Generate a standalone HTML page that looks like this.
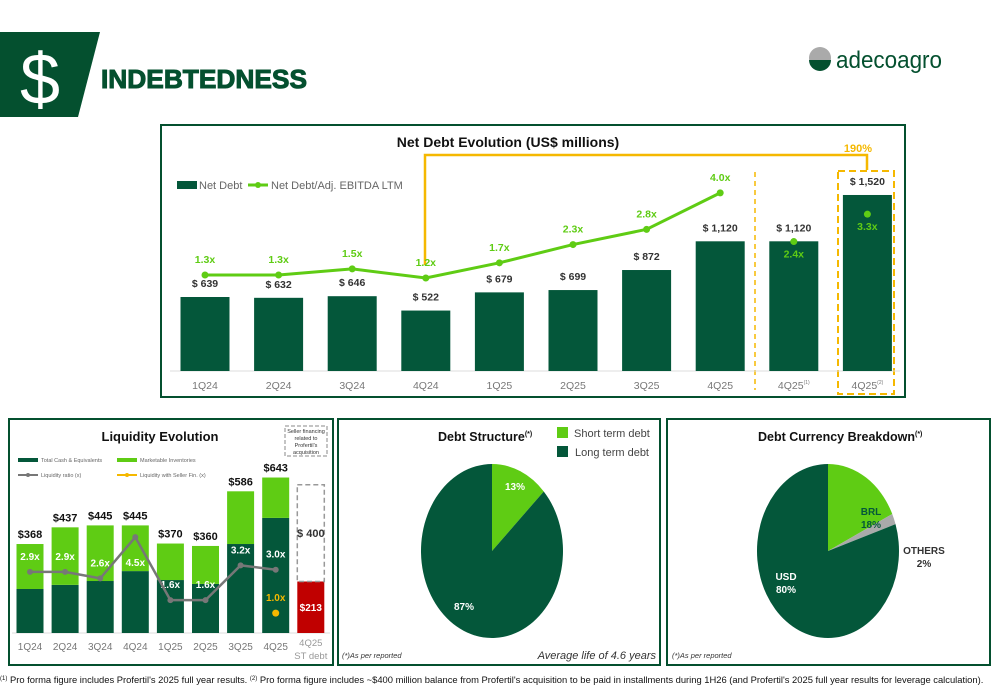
<!DOCTYPE html>
<html><head><meta charset="utf-8"><style>
body{margin:0;background:#fff}
svg{display:block;font-family:"Liberation Sans",sans-serif}
</style></head><body>
<svg id="s" width="1000" height="685" viewBox="0 0 1000 685" xmlns="http://www.w3.org/2000/svg">
<polygon points="0,32 100,32 78,117 0,117" fill="#04502f"/>
<text x="40" y="104" font-size="72" fill="#fff" text-anchor="middle">$</text>
<text x="101" y="88" font-size="26" font-weight="bold" fill="#04502f" stroke="#04502f" stroke-width="1" textLength="206" lengthAdjust="spacingAndGlyphs">INDEBTEDNESS</text>
<g>
<circle cx="820" cy="58" r="11" fill="#aaa"/>
<path d="M809,60 A11,11 0 0 0 831,60 Z" fill="#04502f"/>
<text x="836" y="68" font-size="24" fill="#04502f" textLength="106" lengthAdjust="spacingAndGlyphs">adecoagro</text>
</g>
<rect x="161" y="125" width="744" height="272" fill="none" stroke="#04502f" stroke-width="2"/>
<text x="508" y="147" font-size="14" font-weight="bold" text-anchor="middle" fill="#111">Net Debt Evolution (US$ millions)</text>
<rect x="177" y="181" width="20" height="8" fill="#04573a"/>
<text x="199" y="189" font-size="11" fill="#666">Net Debt</text>
<line x1="248" y1="185" x2="268" y2="185" stroke="#5fcc14" stroke-width="3"/><circle cx="258" cy="185" r="3" fill="#5fcc14"/>
<text x="271" y="189" font-size="11" fill="#666">Net Debt/Adj. EBITDA LTM</text>
<path d="M425,265 V155 H867 V170" fill="none" stroke="#f5b800" stroke-width="2.5"/>
<text x="858" y="152" font-size="11" font-weight="bold" fill="#f5b800" text-anchor="middle">190%</text>
<line x1="755" y1="172" x2="755" y2="390" stroke="#f5b800" stroke-width="1.5" stroke-dasharray="5,4"/>
<rect x="838" y="171" width="56" height="223" fill="none" stroke="#f5b800" stroke-width="2" stroke-dasharray="7,4"/>
<line x1="170" y1="371" x2="900" y2="371" stroke="#ddd"/>
<g id="main"></g>
<rect x="9" y="419" width="324" height="246" fill="none" stroke="#04502f" stroke-width="2"/>
<text x="160" y="441" font-size="13" font-weight="bold" text-anchor="middle" fill="#111">Liquidity Evolution</text>
<rect x="285" y="426" width="42" height="30" fill="none" stroke="#888" stroke-dasharray="4,2"/>
<text font-size="5.5" fill="#333" text-anchor="middle"><tspan x="306" y="433">Seller financing</tspan><tspan x="306" y="440">related to</tspan><tspan x="306" y="447">Profertil's</tspan><tspan x="306" y="454">acquisition</tspan></text>
<rect x="18" y="458" width="20" height="4" fill="#04573a"/><text x="41" y="462" font-size="5.5" fill="#666">Total Cash &amp; Equivalents</text>
<rect x="117" y="458" width="20" height="4" fill="#5fcc14"/><text x="140" y="462" font-size="5.5" fill="#666">Marketable Inventories</text>
<line x1="18" y1="475" x2="38" y2="475" stroke="#777" stroke-width="2"/><circle cx="28" cy="475" r="2" fill="#777"/><text x="41" y="477" font-size="5.5" fill="#666">Liquidity ratio (x)</text>
<line x1="117" y1="475" x2="137" y2="475" stroke="#f5b800" stroke-width="2"/><circle cx="127" cy="475" r="2" fill="#f5b800"/><text x="140" y="477" font-size="5.5" fill="#666">Liquidity with Seller Fin. (x)</text>
<line x1="12" y1="633" x2="330" y2="633" stroke="#ddd"/>
<g id="liq"></g>
<rect x="338" y="419" width="322" height="246" fill="none" stroke="#04502f" stroke-width="2"/>
<text x="438" y="441" font-size="12.5" font-weight="bold" fill="#111">Debt Structure<tspan font-size="7" dy="-5">(*)</tspan></text>
<rect x="557" y="427" width="11" height="11" fill="#5fcc14"/><text x="574" y="437" font-size="11" fill="#444">Short term debt</text>
<rect x="557" y="446" width="11" height="11" fill="#04573a"/><text x="575" y="456" font-size="11" fill="#444">Long term debt</text>
<g id="pie1"></g>
<text x="342" y="658" font-size="7.5" font-style="italic" fill="#333">(*)As per reported</text>
<text x="656" y="659" font-size="11" font-style="italic" fill="#333" text-anchor="end">Average life of 4.6 years</text>
<rect x="667" y="419" width="323" height="246" fill="none" stroke="#04502f" stroke-width="2"/>
<text x="758" y="441" font-size="12.5" font-weight="bold" fill="#111">Debt Currency Breakdown<tspan font-size="7" dy="-5">(*)</tspan></text>
<g id="pie2"></g>
<text x="672" y="658" font-size="7.5" font-style="italic" fill="#333">(*)As per reported</text>
<text x="0" y="683" font-size="9.4" fill="#111"><tspan font-size="6" dy="-3">(1)</tspan><tspan dy="3"> Pro forma figure includes Profertil's 2025 full year results. </tspan><tspan font-size="6" dy="-3">(2)</tspan><tspan dy="3"> Pro forma figure includes ~$400 million balance from Profertil's acquisition to be paid in installments during 1H26 (and Profertil's 2025 full year results for leverage calculation).</tspan></text>
</svg>
<script>
const NS="http://www.w3.org/2000/svg";
const quarters=["1Q24","2Q24","3Q24","4Q24","1Q25","2Q25","3Q25","4Q25","4Q25","4Q25"];
const netDebt=[639,632,646,522,679,699,872,1120,1120,1520];
const ratio=[1.3,1.3,1.5,1.2,1.7,2.3,2.8,4.0,2.4,3.3];
const liqCats=["1Q24","2Q24","3Q24","4Q24","1Q25","2Q25","3Q25","4Q25"];
const liqCash=[182,199,215,256,219,203,368,476];
const liqInv=[186,238,230,189,151,157,218,167];
const liqRatio=[2.9,2.9,2.6,4.5,1.6,1.6,3.2,3.0];
const sellerRatio=1.0, stDebt=213, sellerFin=400;
const structVals=[13,87];
const currVals=[18,2,80];
const currLabels=["BRL","OTHERS","USD"];
function el(t,a,p,txt){const e=document.createElementNS(NS,t);for(const k in a)e.setAttribute(k,a[k]);if(txt!==undefined)e.textContent=txt;p.appendChild(e);return e;}
const M=document.getElementById('main');
const mx=i=>205+i*73.6, my=v=>371-v*0.1158, ry=v=>314.5-v*30.4;
netDebt.forEach((v,i)=>{
 const r=el('rect',{x:mx(i)-24.5,y:my(v),width:49,height:371-my(v),fill:'#04573a'},M);
 
 
 const t=el('text',{x:mx(i),y:my(v)-10,'font-size':10.5,'font-weight':'bold','text-anchor':'middle',fill:'#333'},M,'$ '+v.toLocaleString('en-US'));
 
 
 const q=el('text',{x:mx(i),y:389,'font-size':10.5,'text-anchor':'middle',fill:'#777'},M,quarters[i]);
 
 
 if(i>=8){el('tspan',{'font-size':5,dy:-5},q,i==8?'(1)':'(2)');}
});
let pts=ratio.slice(0,8).map((v,i)=>mx(i)+','+ry(v)).join(' ');
const pl=el('polyline',{points:pts,fill:'none',stroke:'#5fcc14','stroke-width':3},M);


ratio.forEach((v,i)=>{
 el('circle',{cx:mx(i),cy:ry(v),r:3.5,fill:'#5fcc14'},M);
 const t=el('text',{x:mx(i),y:i>=8?ry(v)+16:ry(v)-12,'font-size':10.5,'font-weight':'bold','text-anchor':'middle',fill:'#5fcc14'},M,v.toFixed(1)+'x');
 
 
});
const L=document.getElementById('liq');
const lx=i=>30+i*35.1, ly=v=>633-v*0.2418, lr=v=>634.8-v*21.7;
liqCats.forEach((c,i)=>{
 const tot=liqCash[i]+liqInv[i];
 const a=el('rect',{x:lx(i)-13.5,y:ly(liqCash[i]),width:27,height:633-ly(liqCash[i]),fill:'#04573a'},L);
 
 
 const b=el('rect',{x:lx(i)-13.5,y:ly(tot),width:27,height:ly(liqCash[i])-ly(tot),fill:'#5fcc14'},L);
 
 
 el('text',{x:lx(i),y:ly(tot)-6,'font-size':11,'font-weight':'bold','text-anchor':'middle',fill:'#111'},L,'$'+tot);
 const v=liqRatio[i];
 const ty=v>4?lr(v)+29:lr(v)-12;
 el('text',{x:lx(i),y:ty,'font-size':10,'font-weight':'bold','text-anchor':'middle',fill:'#fff'},L,v.toFixed(1)+'x');
 el('text',{x:lx(i),y:650,'font-size':10,'text-anchor':'middle',fill:'#777'},L,c);
});
const lp=el('polyline',{points:liqRatio.map((v,i)=>lx(i)+','+lr(v)).join(' '),fill:'none',stroke:'#777','stroke-width':2.5},L);


liqRatio.forEach((v,i)=>el('circle',{cx:lx(i),cy:lr(v),r:3,fill:'#777'},L));
el('circle',{cx:lx(7),cy:lr(sellerRatio),r:3.5,fill:'#f5b800'},L);
el('text',{x:lx(7),y:lr(sellerRatio)-12,'font-size':10,'font-weight':'bold','text-anchor':'middle',fill:'#f5b800'},L,sellerRatio.toFixed(1)+'x');
const sx=lx(8);
const sd=el('rect',{x:sx-13.5,y:ly(stDebt),width:27,height:633-ly(stDebt),fill:'#c00000'},L);


el('text',{x:sx,y:ly(stDebt/2)+4,'font-size':10,'font-weight':'bold','text-anchor':'middle',fill:'#fff'},L,'$'+stDebt);
const sf=el('rect',{x:sx-13.5,y:ly(stDebt+sellerFin),width:27,height:ly(stDebt)-ly(stDebt+sellerFin),fill:'none',stroke:'#999','stroke-width':1.5,'stroke-dasharray':'5,3'},L);


el('text',{x:sx,y:ly(stDebt+sellerFin/2)+4,'font-size':11,'font-weight':'bold','text-anchor':'middle',fill:'#333'},L,'$ '+sellerFin);
el('text',{x:sx,y:646,'font-size':9.5,'text-anchor':'middle',fill:'#999'},L,'4Q25');
el('text',{x:sx,y:659,'font-size':9.5,'text-anchor':'middle',fill:'#999'},L,'ST debt');
function pie(g,cx,cy,rx,ryy,vals,cols,names){
 let tot=vals.reduce((a,b)=>a+b,0),a0=-Math.PI/2;
 vals.forEach((v,i)=>{
  const a1=a0+v/tot*2*Math.PI;
  const large=(a1-a0)>Math.PI?1:0;
  const d=`M${cx},${cy} L${cx+rx*Math.cos(a0)},${cy+ryy*Math.sin(a0)} A${rx},${ryy} 0 ${large} 1 ${cx+rx*Math.cos(a1)},${cy+ryy*Math.sin(a1)} Z`;
  const p=el('path',{d:d,fill:cols[i]},g);
  
  
  a0=a1;
 });
}
const P1=document.getElementById('pie1');
pie(P1,492,551,71,87,structVals,['#5fcc14','#04573a'],['short-term','long-term']);
el('text',{x:515,y:490,'font-size':10,'font-weight':'bold','text-anchor':'middle',fill:'#fff'},P1,structVals[0]+'%');
el('text',{x:464,y:610,'font-size':10,'font-weight':'bold','text-anchor':'middle',fill:'#fff'},P1,structVals[1]+'%');
const P2=document.getElementById('pie2');
pie(P2,828,551,71,87,currVals,['#5fcc14','#aaaaaa','#04573a'],['brl','others','usd']);
el('text',{x:871,y:515,'font-size':10,'font-weight':'bold','text-anchor':'middle',fill:'#04573a'},P2,currLabels[0]);
el('text',{x:871,y:528,'font-size':10,'font-weight':'bold','text-anchor':'middle',fill:'#04573a'},P2,currVals[0]+'%');
el('text',{x:924,y:554,'font-size':10,'font-weight':'bold','text-anchor':'middle',fill:'#333'},P2,currLabels[1]);
el('text',{x:924,y:567,'font-size':10,'font-weight':'bold','text-anchor':'middle',fill:'#333'},P2,currVals[1]+'%');
el('text',{x:786,y:580,'font-size':10,'font-weight':'bold','text-anchor':'middle',fill:'#fff'},P2,currLabels[2]);
el('text',{x:786,y:593,'font-size':10,'font-weight':'bold','text-anchor':'middle',fill:'#fff'},P2,currVals[2]+'%');
</script>
</body></html>
